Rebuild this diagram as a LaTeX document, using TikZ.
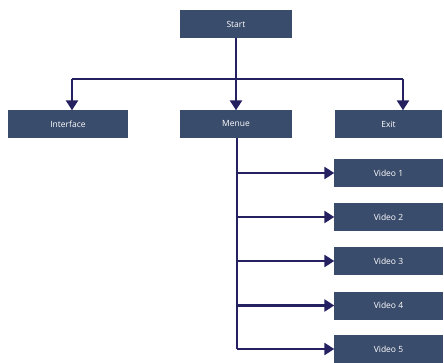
\documentclass[tikz,border=0pt]{standalone}
\usepackage{fontspec}
\setmainfont{Open Sans}
\usetikzlibrary{arrows.meta}
\definecolor{boxfill}{HTML}{3A4C6C}
\definecolor{linec}{HTML}{252060}
\tikzset{
  box/.style={draw=none, fill=boxfill, text=white, minimum height=28pt, inner sep=0pt, font=\fontsize{8.5}{10}\selectfont},
  conn/.style={draw=linec, line width=2.7pt},
  arr/.style={conn, -{Triangle[width=12pt,length=10pt]}, shorten >=-0.5pt}
}
\begin{document}
\begin{tikzpicture}[x=1pt,y=-1pt]
\useasboundingbox (0,0) rectangle (444,363);
\node[box, minimum width=112pt] (start) at (236,24) {Start};
\node[box, minimum width=120pt] (interface) at (68,124) {Interface};
\node[box, minimum width=112pt] (menue) at (236,124) {Menue};
\node[box, minimum width=107pt] (exit) at (388.5,124) {Exit};
\node[box, minimum width=109pt] (v1) at (388.5,173) {Video 1};
\node[box, minimum width=109pt] (v2) at (388.5,217) {Video 2};
\node[box, minimum width=109pt] (v3) at (388.5,261) {Video 3};
\node[box, minimum width=109pt] (v4) at (388.5,305.5) {Video 4};
\node[box, minimum width=109pt] (v5) at (388.5,349) {Video 5};
\coordinate (hl) at (72,79);
\coordinate (hr) at (403,79);
\coordinate (vb) at (237,349);
\draw[arr] (start.south) -- (menue.north);
\draw[conn] (hl) -- (hr);
\draw[arr] (hl) -- (hl |- interface.north);
\draw[arr] (hr) -- (hr |- exit.north);
\draw[conn] ([xshift=1pt]menue.south) -- (vb);
\foreach \v in {v1,v2,v3,v4,v5}{
  \draw[arr] (vb |- \v) -- (\v.west);
}
\end{tikzpicture}
\end{document}
